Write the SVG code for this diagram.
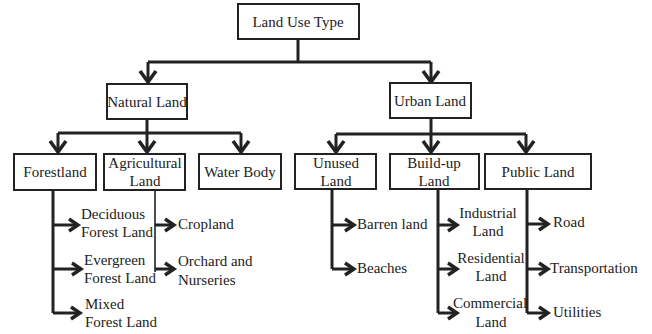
<svg xmlns="http://www.w3.org/2000/svg" width="652" height="334" viewBox="0 0 652 334">
<style>
.box{fill:#fff;stroke:#222;stroke-width:2}
.t{font-family:"Liberation Serif","Times New Roman",serif;font-size:15px;fill:#222}
.c{text-anchor:middle}
.ln{fill:none;stroke:#222;stroke-width:3}
.thin{fill:none;stroke:#222;stroke-width:1.6}
.dn{fill:none;stroke:#222;stroke-width:3;marker-end:url(#down)}
.rt{fill:none;stroke:#222;stroke-width:3;marker-end:url(#right)}
</style>
<defs>
<marker id="down" markerUnits="userSpaceOnUse" markerWidth="20" markerHeight="24" refX="13" refY="10" orient="auto">
<path d="M2,2 L13,10 L2,18" fill="none" stroke="#222" stroke-width="3.6"/>
</marker>
<marker id="right" markerUnits="userSpaceOnUse" markerWidth="18" markerHeight="20" refX="12" refY="8" orient="auto">
<path d="M3,2 L12,8 L3,14" fill="none" stroke="#222" stroke-width="3.4"/>
</marker>
</defs>
<g id="connectors">
<path class="ln" d="M298,39 V62 M148,62 H431"/>
<path class="dn" d="M148,62 V82"/>
<path class="dn" d="M431,62 V82"/>
<path class="ln" d="M147,119 V133 M58,133 H241"/>
<path class="dn" d="M58,133 V152"/>
<path class="dn" d="M147,133 V152"/>
<path class="dn" d="M241,133 V152"/>
<path class="ln" d="M431,118 V134 M336,134 H526"/>
<path class="dn" d="M336,134 V152"/>
<path class="dn" d="M431,134 V152"/>
<path class="dn" d="M526,134 V152"/>
<path class="ln" d="M53,190 V313"/>
<path class="rt" d="M53,225 H78"/>
<path class="rt" d="M53,269 H81"/>
<path class="rt" d="M53,313 H80"/>
<path class="thin" d="M155,190 V272"/>
<path class="rt" d="M155,225 H174"/>
<path class="rt" d="M155,269 H174"/>
<path class="ln" d="M332,189 V269"/>
<path class="rt" d="M332,225 H354"/>
<path class="rt" d="M332,269 H354"/>
<path class="ln" d="M438,189 V313"/>
<path class="rt" d="M438,225 H457"/>
<path class="rt" d="M438,269 H457"/>
<path class="rt" d="M438,313 H457"/>
<path class="ln" d="M527,189 V313"/>
<path class="rt" d="M527,224 H548"/>
<path class="rt" d="M527,269 H548"/>
<path class="rt" d="M527,313 H548"/>
</g>
<g id="land-use-type"><rect class="box" x="238" y="4" width="121" height="35"/><text class="t c" x="298" y="27">Land Use Type</text></g>
<g id="natural-land"><rect class="box" x="107" y="84" width="80" height="35"/><text class="t c" x="147" y="107">Natural Land</text></g>
<g id="urban-land"><rect class="box" x="390" y="83" width="81" height="35"/><text class="t c" x="430" y="106">Urban Land</text></g>
<g id="forestland"><rect class="box" x="14" y="154" width="82" height="36"/><text class="t c" x="55" y="177">Forestland</text></g>
<g id="agricultural-land"><rect class="box" x="104" y="154" width="81" height="36"/><text class="t c" x="145" y="168">Agricultural</text><text class="t c" x="145" y="186">Land</text></g>
<g id="water-body"><rect class="box" x="199" y="154" width="82" height="35"/><text class="t c" x="240" y="177">Water Body</text></g>
<g id="unused-land"><rect class="box" x="295" y="154" width="81" height="35"/><text class="t c" x="336" y="168">Unused</text><text class="t c" x="336" y="186">Land</text></g>
<g id="build-up-land"><rect class="box" x="390" y="154" width="89" height="35"/><text class="t c" x="434" y="168">Build-up</text><text class="t c" x="434" y="186">Land</text></g>
<g id="public-land"><rect class="box" x="485" y="154" width="106" height="35"/><text class="t c" x="538" y="177">Public Land</text></g>
<g id="deciduous"><text class="t" x="81" y="219">Deciduous</text><text class="t" x="81" y="237">Forest Land</text></g>
<g id="evergreen"><text class="t" x="84" y="265">Evergreen</text><text class="t" x="84" y="283">Forest Land</text></g>
<g id="mixed"><text class="t" x="85" y="309">Mixed</text><text class="t" x="85" y="327">Forest Land</text></g>
<g id="cropland"><text class="t" x="178" y="229">Cropland</text></g>
<g id="orchard"><text class="t" x="178" y="266">Orchard and</text><text class="t" x="178" y="285">Nurseries</text></g>
<g id="barren"><text class="t" x="357" y="229">Barren land</text></g>
<g id="beaches"><text class="t" x="357" y="273">Beaches</text></g>
<g id="industrial"><text class="t c" x="488" y="218">Industrial</text><text class="t c" x="488" y="236">Land</text></g>
<g id="residential"><text class="t c" x="491" y="263">Residential</text><text class="t c" x="491" y="281">Land</text></g>
<g id="commercial"><text class="t c" x="490" y="308">Commercial</text><text class="t c" x="491" y="327">Land</text></g>
<g id="road"><text class="t" x="553" y="227">Road</text></g>
<g id="transportation"><text class="t" x="550" y="273">Transportation</text></g>
<g id="utilities"><text class="t" x="553" y="317">Utilities</text></g>
</svg>
